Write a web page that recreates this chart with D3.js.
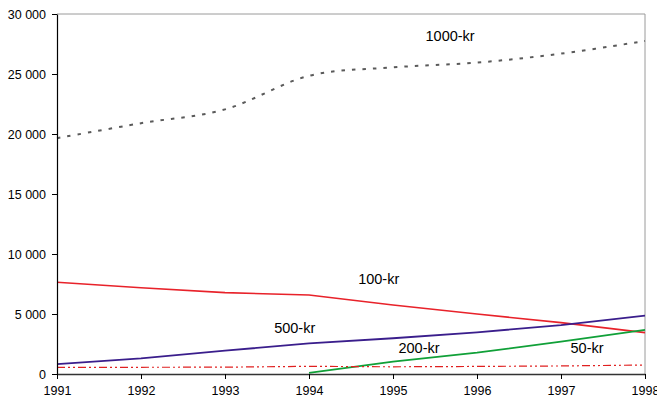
<!DOCTYPE html>
<html><head><meta charset="utf-8">
<script src="https://cdn.jsdelivr.net/npm/d3@7"></script>
<style>
html,body{margin:0;padding:0;background:#fff;}
text{font-family:"Liberation Sans",Arial,sans-serif;fill:#000;}
</style></head>
<body><svg id="c" width="657" height="400"></svg>
<script>
const years = [1991,1992,1993,1994,1995,1996,1997,1998];
const kr1000 = [19650,20900,22050,24850,25550,25950,26700,27750];
const kr100  = [7640,7190,6780,6580,5750,5000,4280,3450];
const kr500  = [830,1300,1940,2560,2980,3470,4080,4860];
const kr200  = [null,null,null,100,1030,1780,2690,3680];
const kr50   = [560,560,570,640,600,630,670,750];
const yTicks = [0,5000,10000,15000,20000,25000,30000];
const labelNames = ["1000-kr","100-kr","500-kr","200-kr","50-kr"];
const labelYears = [1995.68,1994.83,1993.83,1995.31,1997.31];
const labelValues = [28170,7900,3830,2170,2170];

const W=657,H=400,m={l:57,t:14,r:12,b:26};
const svg=d3.select("#c");
const x=d3.scaleLinear().domain([1991,1998]).range([m.l,W-m.r]);
const y=d3.scaleLinear().domain([0,30000]).range([H-m.b,m.t]);

// frame top/right
svg.append("path").attr("d",`M${x(1991)},${y(30000)}H${x(1998)}V${y(0)}`)
  .attr("fill","none").attr("stroke","#9a9a9a").attr("stroke-width",1);

const series=[
 {v:kr1000,c:"#5a5a5a",w:2,d:"3.5,7",curve:d3.curveCatmullRom.alpha(0)},
 {v:kr100,c:"#e8222a",w:1.6,d:null,curve:d3.curveLinear},
 {v:kr500,c:"#3a1e8c",w:1.8,d:null,curve:d3.curveLinear},
 {v:kr200,c:"#10a038",w:1.8,d:null,curve:d3.curveLinear},
 {v:kr50,c:"#e02020",w:1.2,d:"8,3,2,3,2,3",curve:d3.curveLinear}
];
series.forEach(s=>{
  const line=d3.line().defined(d=>d[1]!=null).x(d=>x(d[0])).y(d=>y(d[1])).curve(s.curve);
  svg.append("path").datum(years.map((yr,i)=>[yr,s.v[i]]))
    .attr("d",line).attr("fill","none").attr("stroke",s.c)
    .attr("stroke-width",s.w).attr("stroke-dasharray",s.d);
});

// axes
const ya=svg.append("g").attr("transform",`translate(${m.l},0)`)
  .call(d3.axisLeft(y).tickValues(yTicks).tickSize(5).tickSizeOuter(0)
    .tickFormat(d=>d3.format(",")(d).replace(/,/g," ")));
const xa=svg.append("g").attr("transform",`translate(0,${H-m.b})`)
  .call(d3.axisBottom(x).tickValues(years).tickSize(5).tickSizeOuter(0).tickFormat(d3.format("d")));
[ya,xa].forEach(a=>{
  a.selectAll("path").attr("stroke","#000").attr("stroke-width",1.2);
  a.selectAll("line").attr("stroke","#000");
  a.selectAll("text").attr("font-size","12.5px").attr("font-family","Liberation Sans, Arial, sans-serif").attr("fill","#000");
});
xa.selectAll("path").attr("stroke","#333").attr("stroke-width",1.5);
ya.selectAll("text").attr("x",-11);
xa.selectAll("text").attr("y",12);

labelNames.forEach((n,i)=>{
  svg.append("text").attr("x",x(labelYears[i])).attr("y",y(labelValues[i]))
    .attr("text-anchor","middle").attr("dominant-baseline","central")
    .attr("font-size","14.5px").text(n);
});
</script></body></html>
